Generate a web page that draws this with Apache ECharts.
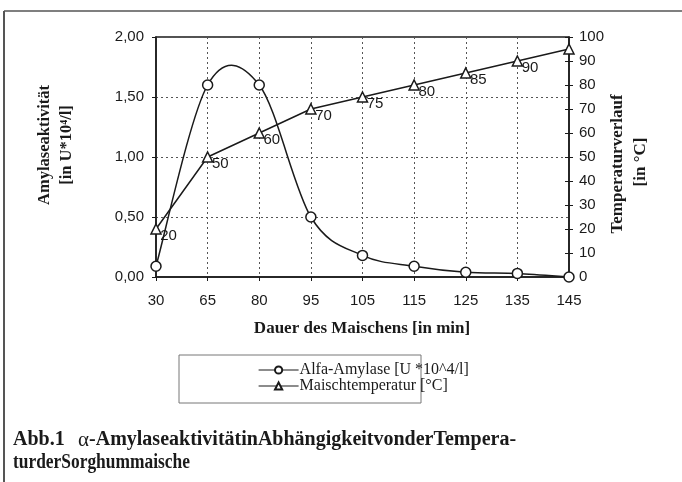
<!DOCTYPE html>
<html>
<head>
<meta charset="utf-8">
<script src="https://cdn.jsdelivr.net/npm/echarts@6/dist/echarts.min.js"></script>
<style>
html,body{margin:0;padding:0;background:#fff;}
#c{width:682px;height:482px;}
</style>
</head>
<body>
<div id="c"></div>
<script>
const categories = ['30','65','80','95','105','115','125','135','145'];
const amylase = [0.09, 1.60, 1.60, 0.50, 0.18, 0.09, 0.04, 0.03, 0.00];
const temperature = [20, 50, 60, 70, 75, 80, 85, 90, 95];
const tempLabels = ['20','50','60','70','75','80','85','90',''];
const seriesNames = ['Alfa-Amylase [U *10^4/l]', 'Maischtemperatur [°C]'];

const ink = '#1a1a1a';
const sans = 'Liberation Sans';
const serif = 'Liberation Serif';

// Excel-like smoothed curve (Catmull-Rom style Bezier) drawn through data points via axis coords
function smoothPath(pts) {
  const t = 1 / 6;
  let d = 'M' + pts[0][0] + ' ' + pts[0][1];
  for (let i = 0; i < pts.length - 1; i++) {
    const p0 = pts[Math.max(i - 1, 0)], p1 = pts[i], p2 = pts[i + 1], p3 = pts[Math.min(i + 2, pts.length - 1)];
    const c1x = p1[0] + (p2[0] - p0[0]) * t, c1y = p1[1] + (p2[1] - p0[1]) * t;
    const c2x = p2[0] - (p3[0] - p1[0]) * t, c2y = p2[1] - (p3[1] - p1[1]) * t;
    d += ' C' + c1x + ' ' + c1y + ' ' + c2x + ' ' + c2y + ' ' + p2[0] + ' ' + p2[1];
  }
  return d;
}

const titleFont = 'bold 17px "Liberation Serif"';

const chart = echarts.init(document.getElementById('c'));
chart.setOption({
  backgroundColor: '#fff',
  animation: false,
  grid: { left: 156, right: 113, top: 37, bottom: 205, show: true, borderColor: ink, borderWidth: 1.5, backgroundColor: 'transparent' },
  xAxis: {
    type: 'category', data: categories, boundaryGap: false,
    axisLine: { lineStyle: { color: ink, width: 1.5 } },
    axisTick: { show: true, length: 4, lineStyle: { color: ink } },
    axisLabel: { color: ink, fontFamily: sans, fontSize: 15, margin: 16 },
    splitLine: { show: true, lineStyle: { type: [2, 3], color: '#555', width: 1 } }
  },
  yAxis: [
    {
      type: 'value', min: 0, max: 2, interval: 0.5, position: 'left',
      axisLine: { show: true, lineStyle: { color: ink, width: 1.5 } },
      axisTick: { show: true, length: 4, lineStyle: { color: ink } },
      axisLabel: { color: ink, fontFamily: sans, fontSize: 15, margin: 12, formatter: v => v.toFixed(2).replace('.', ',') },
      splitLine: { show: true, lineStyle: { type: [2, 3], color: '#555', width: 1 } }
    },
    {
      type: 'value', min: 0, max: 100, interval: 10, position: 'right',
      axisLine: { show: true, lineStyle: { color: ink, width: 1.5 } },
      axisTick: { show: true, length: 4, lineStyle: { color: ink } },
      axisLabel: { color: ink, fontFamily: sans, fontSize: 15, margin: 10 },
      splitLine: { show: false }
    },
    {
      type: 'value', min: 0, max: 100, interval: 10, position: 'right',
      axisLine: { show: false },
      axisTick: { show: true, inside: true, length: 4, lineStyle: { color: ink } },
      axisLabel: { show: false },
      splitLine: { show: false }
    }
  ],
  legend: {
    orient: 'vertical', left: 253, top: 357, itemGap: 0, itemWidth: 40, itemHeight: 9,
    textStyle: { fontFamily: serif, fontSize: 16, color: ink, padding: [0, 0, 0, -4] },
    data: [
      { name: seriesNames[0], lineStyle: { opacity: 1, color: ink, width: 1.2 } },
      { name: seriesNames[1], lineStyle: { opacity: 1, color: ink, width: 1.2 } }
    ]
  },
  series: [
    {
      name: seriesNames[0], type: 'line', yAxisIndex: 0, data: amylase,
      symbol: 'circle', symbolSize: 10, showAllSymbol: true,
      lineStyle: { color: ink, width: 1.5, opacity: 0 },
      itemStyle: { color: '#fff', borderColor: ink, borderWidth: 1.5 },
      z: 3
    },
    {
      name: seriesNames[0], type: 'custom', yAxisIndex: 0,
      data: amylase.map((v, i) => [i, v]),
      encode: { x: 0, y: 1 },
      silent: true, z: 2,
      renderItem: function (params, api) {
        if (params.dataIndex !== 0) return null;
        const pts = amylase.map((v, i) => api.coord([i, v]));
        return { type: 'path', shape: { pathData: smoothPath(pts) }, style: { fill: 'none', stroke: ink, lineWidth: 1.5 } };
      }
    },
    {
      name: seriesNames[1], type: 'line', yAxisIndex: 1, data: temperature,
      symbol: 'triangle', symbolSize: 10,
      lineStyle: { color: ink, width: 1.5 },
      itemStyle: { color: '#fff', borderColor: ink, borderWidth: 1.5 },
      label: {
        show: true, position: [10, 5], fontFamily: sans, fontSize: 15, color: ink,
        formatter: p => tempLabels[p.dataIndex]
      },
      z: 4
    }
  ],
  graphic: [
    { type: 'line', shape: { x1: 4, y1: 11, x2: 682, y2: 11 }, style: { stroke: '#555', lineWidth: 1.5 } },
    { type: 'line', shape: { x1: 4, y1: 11, x2: 4, y2: 482 }, style: { stroke: '#555', lineWidth: 2 } },
    { type: 'rect', shape: { x: 179, y: 355, width: 242, height: 48 }, style: { fill: 'transparent', stroke: '#777', lineWidth: 1 }, z: -1 },
    { type: 'text', x: 45, y: 145, rotation: Math.PI / 2,
      style: { text: 'Amylaseaktivität', font: 'bold 16.5px "Liberation Serif"', fill: ink, textAlign: 'center', textVerticalAlign: 'middle' } },
    { type: 'text', x: 67, y: 145, rotation: Math.PI / 2,
      style: { text: '[in U*10⁴/l]', font: 'bold 16.5px "Liberation Serif"', fill: ink, textAlign: 'center', textVerticalAlign: 'middle' } },
    { type: 'text', x: 618, y: 164, rotation: Math.PI / 2,
      style: { text: 'Temperaturverlauf', font: titleFont, fill: ink, textAlign: 'center', textVerticalAlign: 'middle' } },
    { type: 'text', x: 641, y: 162, rotation: Math.PI / 2,
      style: { text: '[in °C]', font: titleFont, fill: ink, textAlign: 'center', textVerticalAlign: 'middle' } },
    { type: 'text', x: 362, y: 329,
      style: { text: 'Dauer des Maischens [in min]', font: titleFont, fill: ink, textAlign: 'center', textVerticalAlign: 'middle' } },
    { type: 'text', x: 13, y: 440,
      style: { text: '{b|Abb.1}    {a|α}{b|-AmylaseaktivitätinAbhängigkeitvonderTempera-}',
        textVerticalAlign: 'middle',
        rich: {
          b: { fontFamily: serif, fontWeight: 'bold', fontSize: 20, fill: ink, color: ink },
          a: { fontFamily: serif, fontWeight: 'normal', fontSize: 21, fill: ink, color: ink }
        } } },
    { type: 'text', x: 13, y: 463, scaleX: 0.87,
      style: { text: 'turderSorghummaische', font: 'bold 20px "Liberation Serif"', fill: ink, textVerticalAlign: 'middle' } }
  ]
});
</script>
</body>
</html>
